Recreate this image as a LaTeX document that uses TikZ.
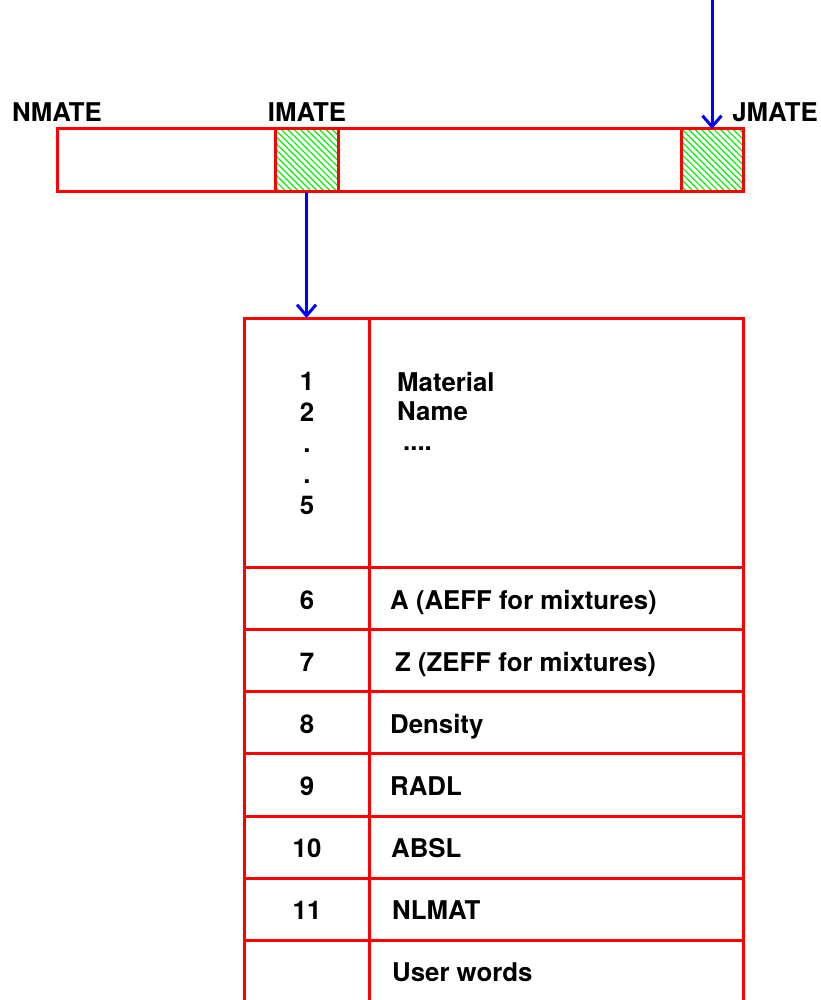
\documentclass[tikz,border=0pt]{standalone}
\usepackage{fontspec}
\setmainfont{TeX Gyre Heros}
\usetikzlibrary{arrows.meta}
\usetikzlibrary{patterns.meta}

\begin{document}
\begin{tikzpicture}[x=1pt,y=-1pt,
  lbl/.style={font=\bfseries\fontsize{25.8}{31}\selectfont, inner sep=0pt},
  redbox/.style={draw=red, line width=3pt, inner sep=0pt, outer sep=0pt},
  hatched/.style={redbox, pattern={Lines[angle=-45,distance=4.5pt,line width=1.2pt]}, pattern color=green!95!black},
  link/.style={draw=blue, line width=3pt, -{Straight Barb[length=11pt,width=19pt,line width=3pt]}}]
\useasboundingbox (0,0) rectangle (820,1000);

% material bank
\node[redbox, minimum width=686pt, minimum height=63pt] (bank) at (400,160.5) {};
\node[hatched, minimum width=63pt, minimum height=63pt] (imate) at (306.5,160.5) {};
\node[hatched, minimum width=62pt, minimum height=63pt] (jmate) at (712,160.5) {};
\node[lbl] (nmatelbl) at (57,112) {NMATE};
\node[lbl] (imatelbl) at (307,112) {IMATE};
\node[lbl] (jmatelbl) at (775,112) {JMATE};

% material record
\node[redbox, minimum width=125pt, minimum height=249pt] (num1) at (306.5,442.5) {};
\node[redbox, minimum width=374pt, minimum height=249pt] (txt1) at (556,442.5) {};
\node[redbox, minimum width=125pt, minimum height=62pt] (num6) at (306.5,598) {};
\node[redbox, minimum width=374pt, minimum height=62pt] (txt6) at (556,598) {};
\node[redbox, minimum width=125pt, minimum height=62pt] (num7) at (306.5,660) {};
\node[redbox, minimum width=374pt, minimum height=62pt] (txt7) at (556,660) {};
\node[redbox, minimum width=125pt, minimum height=62pt] (num8) at (306.5,722) {};
\node[redbox, minimum width=374pt, minimum height=62pt] (txt8) at (556,722) {};
\node[redbox, minimum width=125pt, minimum height=63pt] (num9) at (306.5,784.5) {};
\node[redbox, minimum width=374pt, minimum height=63pt] (txt9) at (556,784.5) {};
\node[redbox, minimum width=125pt, minimum height=62pt] (num10) at (306.5,847) {};
\node[redbox, minimum width=374pt, minimum height=62pt] (txt10) at (556,847) {};
\node[redbox, minimum width=125pt, minimum height=62pt] (num11) at (306.5,909) {};
\node[redbox, minimum width=374pt, minimum height=62pt] (txt11) at (556,909) {};
\draw[red, line width=3pt] (num11.south west) -- ++(0,62)
  (num11.south east) -- ++(0,62) (txt11.south east) -- ++(0,62);

\node[lbl, align=center, anchor=north] (nums) at (307,372) {1\\2\\.\\.\\5};
\node[lbl, align=left, anchor=north west, font=\bfseries\fontsize{25.8}{29.5}\selectfont] (names) at (397,372) {Material\\Name\\\hspace{6pt}....};

\node[lbl, anchor=base] (n6) at (307,609) {6};
\node[lbl, anchor=base west] (t6) at (390,609) {A (AEFF for mixtures)};
\node[lbl, anchor=base] (n7) at (307,671) {7};
\node[lbl, anchor=base west] (t7) at (395,671) {Z (ZEFF for mixtures)};
\node[lbl, anchor=base] (n8) at (307,733) {8};
\node[lbl, anchor=base west] (t8) at (390,733) {Density};
\node[lbl, anchor=base] (n9) at (307,795) {9};
\node[lbl, anchor=base west] (t9) at (390,795) {RADL};
\node[lbl, anchor=base] (n10) at (307,857) {10};
\node[lbl, anchor=base west] (t10) at (391,857) {ABSL};
\node[lbl, anchor=base] (n11) at (307,919) {11};
\node[lbl, anchor=base west] (t11) at (392,919) {NLMAT};
\node[lbl, anchor=base west] (tuser) at (392,981) {User words};

% pointers
\coordinate (top) at (712,0);
\draw[link] (top) -- (jmate.north);
\draw[link] (imate.south) -- (num1.north);
\end{tikzpicture}
\end{document}
